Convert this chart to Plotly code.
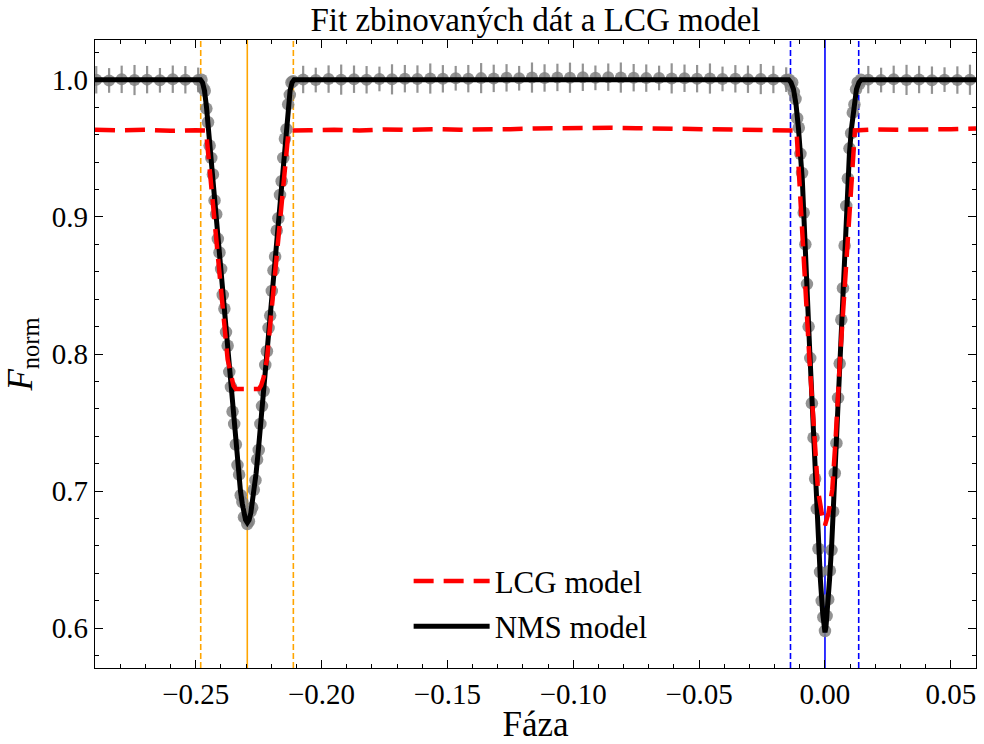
import plotly.graph_objects as go

# ---------------------------------------------------------------
# Binned light curve (phase, normalised flux)
# ---------------------------------------------------------------
# out-of-eclipse bins, left of the secondary eclipse
oot_a_phase = [-0.2895, -0.2844, -0.2794, -0.2743, -0.2693, -0.2642, -0.2591, -0.2541, -0.2490]
oot_a_flux = [1.0000, 0.9995, 1.0003, 0.9998, 1.0001, 0.9996, 1.0004, 1.0000, 0.9999]
oot_a_err = [0.010, 0.009, 0.010, 0.011, 0.010, 0.009, 0.010, 0.010, 0.009]

# out-of-eclipse bins between the two eclipses
oot_b_phase = [-0.2073, -0.2023, -0.1972, -0.1922, -0.1871, -0.1821, -0.1770, -0.1720, -0.1669, -0.1619,
               -0.1568, -0.1518, -0.1467, -0.1417, -0.1366, -0.1316, -0.1265, -0.1215, -0.1164, -0.1114,
               -0.1063, -0.1013, -0.0962, -0.0912, -0.0861, -0.0811, -0.0760, -0.0710, -0.0659, -0.0609,
               -0.0558, -0.0508, -0.0457, -0.0407, -0.0356, -0.0306, -0.0255, -0.0205, -0.0154]
oot_b_flux = [1.0002, 0.9998, 1.0005, 1.0001, 1.0004, 1.0000, 1.0006, 1.0003, 1.0008, 1.0005,
              1.0009, 1.0007, 1.0011, 1.0008, 1.0012, 1.0010, 1.0014, 1.0011, 1.0016, 1.0013,
              1.0017, 1.0015, 1.0018, 1.0014, 1.0019, 1.0016, 1.0015, 1.0012, 1.0013, 1.0010,
              1.0011, 1.0008, 1.0009, 1.0006, 1.0007, 1.0004, 1.0005, 1.0002, 1.0001]
oot_b_err = [0.010, 0.009, 0.010, 0.011, 0.010, 0.010, 0.009, 0.011, 0.010, 0.010,
             0.011, 0.010, 0.009, 0.010, 0.011, 0.010, 0.010, 0.009, 0.011, 0.010,
             0.010, 0.011, 0.010, 0.009, 0.010, 0.011, 0.010, 0.010, 0.009, 0.011,
             0.010, 0.010, 0.011, 0.009, 0.010, 0.010, 0.011, 0.010, 0.009]

# out-of-eclipse bins, right of the primary eclipse
oot_c_phase = [0.0172, 0.0223, 0.0273, 0.0324, 0.0374, 0.0425, 0.0475, 0.0526, 0.0576]
oot_c_flux = [1.0001, 0.9998, 1.0003, 0.9999, 1.0002, 0.9997, 1.0001, 0.9998, 1.0000]
oot_c_err = [0.010, 0.009, 0.010, 0.011, 0.010, 0.010, 0.009, 0.010, 0.011]

# fine bins across the secondary eclipse
sec_phase = [-0.24770, -0.24705, -0.24640, -0.24575, -0.24510, -0.24445, -0.24380, -0.24315, -0.24250, -0.24185,
             -0.24120, -0.24055, -0.23990, -0.23925, -0.23860, -0.23795, -0.23730, -0.23665, -0.23600, -0.23535,
             -0.23470, -0.23405, -0.23340, -0.23275, -0.23210, -0.23145, -0.23080, -0.23015, -0.22950, -0.22885,
             -0.22820, -0.22755, -0.22690, -0.22625, -0.22560, -0.22495, -0.22430, -0.22365, -0.22300, -0.22235,
             -0.22170, -0.22105, -0.22040, -0.21975, -0.21910, -0.21845, -0.21780, -0.21715, -0.21650, -0.21585,
             -0.21520, -0.21455, -0.21390, -0.21325, -0.21260, -0.21195, -0.21130]
sec_flux = [1.000, 0.994, 0.992, 0.979, 0.969, 0.952, 0.943, 0.931, 0.912, 0.902,
            0.884, 0.874, 0.862, 0.843, 0.833, 0.816, 0.806, 0.787, 0.776, 0.758,
            0.749, 0.734, 0.719, 0.712, 0.697, 0.692, 0.681, 0.680, 0.676, 0.678,
            0.685, 0.688, 0.701, 0.708, 0.723, 0.730, 0.749, 0.762, 0.773, 0.792,
            0.802, 0.819, 0.828, 0.846, 0.861, 0.871, 0.890, 0.899, 0.916, 0.926,
            0.943, 0.957, 0.964, 0.982, 0.989, 0.998, 0.999]

# fine bins across the primary eclipse
pri_phase = [-0.01430, -0.01365, -0.01300, -0.01235, -0.01170, -0.01105, -0.01040, -0.00975, -0.00910, -0.00845,
             -0.00780, -0.00715, -0.00650, -0.00585, -0.00520, -0.00455, -0.00390, -0.00325, -0.00260, -0.00195,
             -0.00130, -0.00065, 0.00000, 0.00065, 0.00130, 0.00195, 0.00260, 0.00325, 0.00390, 0.00455,
             0.00520, 0.00585, 0.00650, 0.00715, 0.00780, 0.00845, 0.00910, 0.00975, 0.01040, 0.01105,
             0.01170, 0.01235, 0.01300, 0.01365, 0.01430]
pri_flux = [1.000, 0.996, 0.998, 0.991, 0.986, 0.972, 0.965, 0.946, 0.932, 0.903,
            0.880, 0.851, 0.820, 0.797, 0.764, 0.739, 0.709, 0.687, 0.658, 0.641,
            0.620, 0.608, 0.598, 0.609, 0.621, 0.642, 0.657, 0.685, 0.713, 0.735,
            0.768, 0.793, 0.825, 0.848, 0.879, 0.908, 0.928, 0.950, 0.961, 0.976,
            0.982, 0.993, 0.998, 0.997, 1.000]

# ---------------------------------------------------------------
# NMS model (solid black)
# ---------------------------------------------------------------
nms_phase = [-0.2900, -0.2481, -0.2473, -0.2465, -0.2457, -0.2450, -0.2438, -0.2395, -0.2355, -0.2340,
             -0.2330, -0.2322, -0.2315, -0.2309, -0.2302, -0.2295, -0.2288, -0.2281, -0.2275, -0.2268,
             -0.2260, -0.2250, -0.2235, -0.2195, -0.2152, -0.2140, -0.2133, -0.2125, -0.2117, -0.2109,
             -0.0144, -0.0135, -0.0125, -0.0115, -0.0105, -0.0097, -0.0090, -0.0060, -0.0035, -0.0027,
             -0.0018, -0.0009, -0.0004, 0.0000, 0.0004, 0.0009, 0.0018, 0.0027, 0.0035, 0.0060,
             0.0090, 0.0097, 0.0105, 0.0115, 0.0125, 0.0135, 0.0144, 0.0600]
nms_flux = [1.000, 1.000, 0.998, 0.992, 0.980, 0.965, 0.942, 0.850, 0.764, 0.732,
            0.713, 0.700, 0.691, 0.684, 0.679, 0.677, 0.679, 0.684, 0.691, 0.700,
            0.713, 0.732, 0.764, 0.850, 0.942, 0.965, 0.980, 0.992, 0.998, 1.000,
            1.000, 0.998, 0.993, 0.982, 0.964, 0.946, 0.927, 0.800, 0.694, 0.662,
            0.635, 0.611, 0.601, 0.597, 0.601, 0.611, 0.635, 0.662, 0.694, 0.800,
            0.927, 0.946, 0.964, 0.982, 0.993, 0.998, 1.000, 1.000]

# ---------------------------------------------------------------
# LCG model (dashed red)
# ---------------------------------------------------------------
lcg_phase = [-0.2900, -0.2800, -0.2700, -0.2600, -0.2500, -0.2459,
             -0.2373, -0.2360, -0.2350, -0.2341, -0.2249, -0.2240, -0.2230, -0.2217, -0.2131,
             -0.2050, -0.1950, -0.1850, -0.1750, -0.1650, -0.1550, -0.1450, -0.1350, -0.1250, -0.1150,
             -0.1050, -0.0950, -0.0850, -0.0750, -0.0650, -0.0550, -0.0450, -0.0350, -0.0250, -0.0150,
             -0.0113, -0.0062, -0.0042, -0.0028, -0.0013, 0.0000, 0.0014, 0.0029, 0.0042, 0.0060, 0.0119,
             0.0200, 0.0300, 0.0400, 0.0500, 0.0600]
lcg_flux = [0.9635, 0.9630, 0.9635, 0.9628, 0.9632, 0.9630,
            0.7960, 0.7830, 0.7770, 0.7745, 0.7745, 0.7770, 0.7830, 0.7960, 0.9630,
            0.9632, 0.9636, 0.9630, 0.9638, 0.9635, 0.9640, 0.9636, 0.9642, 0.9640, 0.9645,
            0.9648, 0.9645, 0.9650, 0.9647, 0.9644, 0.9640, 0.9638, 0.9636, 0.9632, 0.9630,
            0.9630, 0.7970, 0.7370, 0.7010, 0.6840, 0.6750, 0.6840, 0.7010, 0.7370, 0.7970, 0.9630,
            0.9638, 0.9636, 0.9642, 0.9640, 0.9645]

# eclipse centres and contact limits
sec_mid = -0.2295
sec_limits = [-0.2480, -0.2112]
pri_mid = 0.0
pri_limits = [-0.0137, 0.0134]

ORANGE = "#FFA500"
BLUE = "#0000FF"
POINT = "rgba(128,128,128,0.85)"
Y_LO, Y_HI = 0.571, 1.029

fig = go.Figure()

# eclipse markers
for x, dash, col in ([sec_mid, "solid", ORANGE], [sec_limits[0], "6px,3px", ORANGE], [sec_limits[1], "6px,3px", ORANGE],
                     [pri_mid, "solid", BLUE], [pri_limits[0], "6px,3px", BLUE], [pri_limits[1], "6px,3px", BLUE]):
    fig.add_trace(go.Scatter(x=[x, x], y=[Y_LO, Y_HI], mode="lines",
                             line=dict(color=col, width=1.6, dash=dash),
                             showlegend=False, hoverinfo="skip"))

# binned data with errors (out of eclipse)
oot_phase = oot_a_phase + oot_b_phase + oot_c_phase
oot_flux = oot_a_flux + oot_b_flux + oot_c_flux
oot_err = oot_a_err + oot_b_err + oot_c_err
fig.add_trace(go.Scatter(x=oot_phase, y=oot_flux, mode="markers",
                         marker=dict(size=12, color=POINT),
                         error_y=dict(type="data", array=oot_err, color=POINT, thickness=2.2, width=0),
                         showlegend=False))
# binned data inside the eclipses (errors smaller than the marker)
fig.add_trace(go.Scatter(x=sec_phase + pri_phase, y=sec_flux + pri_flux, mode="markers",
                         marker=dict(size=12.5, color=POINT), showlegend=False))

fig.add_trace(go.Scatter(x=nms_phase, y=nms_flux, mode="lines", name="NMS model",
                         line=dict(color="black", width=5), legendgroup="nms", legendrank=2))
fig.add_trace(go.Scatter(x=lcg_phase, y=lcg_flux, mode="lines", name="LCG model",
                         line=dict(color="#FF0000", width=4.5, dash="20px,10px"),
                         legendgroup="lcg", legendrank=1))

axis_common = dict(showline=True, linecolor="black", linewidth=1.4, mirror="ticks",
                   ticks="inside", ticklen=8, tickwidth=1.3, tickcolor="black",
                   showgrid=False, zeroline=False)

fig.update_layout(
    width=984, height=744,
    margin=dict(l=95, r=8, t=40, b=76),
    paper_bgcolor="white", plot_bgcolor="white",
    font=dict(family="Liberation Serif", size=29, color="black"),
    title=dict(text="Fit zbinovaných dát a LCG model", x=0.5, xref="paper", xanchor="center",
               y=0.974, yref="container", yanchor="middle", font=dict(size=33)),
    xaxis=dict(range=[-0.29, 0.06], dtick=0.05, tick0=0, tickformat=".2f",
               minor=dict(dtick=0.01, tick0=0, ticks="inside", ticklen=4, tickwidth=1, tickcolor="black"),
               title=dict(text="Fáza", standoff=1), **axis_common),
    yaxis=dict(range=[Y_LO, Y_HI], dtick=0.1, tick0=0, tickformat=".1f",
               minor=dict(dtick=0.02, tick0=0, ticks="inside", ticklen=4, tickwidth=1, tickcolor="black"),
               title=dict(text="<i>F</i><sub>norm</sub>", standoff=8), **axis_common),
    legend=dict(x=0.356, y=0.181, xanchor="left", yanchor="top", bgcolor="rgba(0,0,0,0)",
                traceorder="grouped", tracegroupgap=2, itemwidth=76, font=dict(size=31)),
)

fig.write_html("out.html")
